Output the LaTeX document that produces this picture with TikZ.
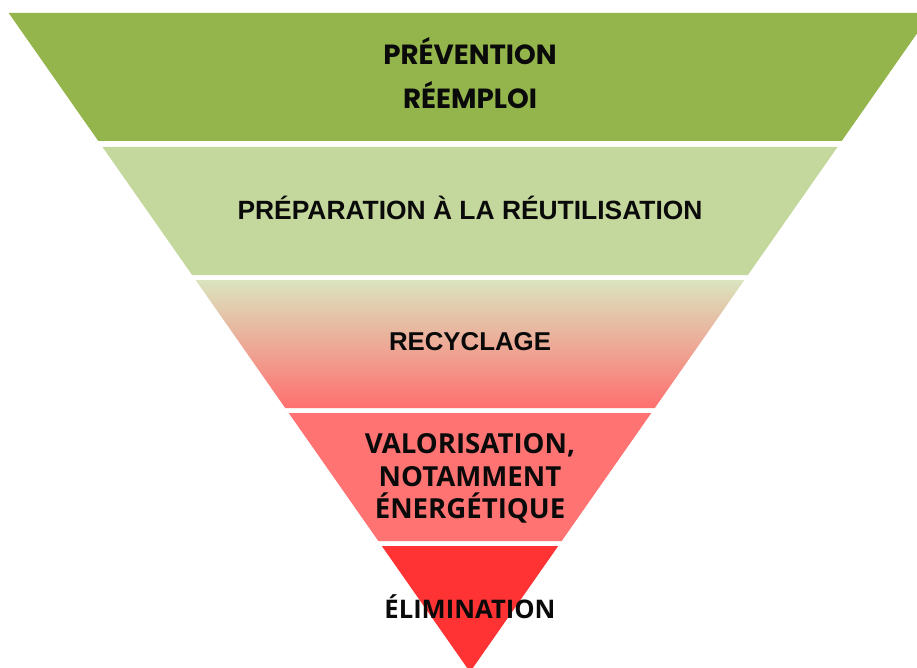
\documentclass[tikz,border=0pt]{standalone}
\usepackage{fontspec}
\newfontfamily\popf{Poppins}
\newfontfamily\libf{Liberation Sans}
\newfontfamily\opsf{Open Sans}
\definecolor{bandA}{RGB}{148,181,76}
\definecolor{bandB}{RGB}{196,215,156}
\definecolor{bandCtop}{RGB}{218,228,190}
\definecolor{bandCbot}{RGB}{255,112,112}
\definecolor{bandD}{RGB}{255,115,115}
\definecolor{bandE}{RGB}{255,51,51}
\definecolor{txt}{RGB}{10,10,10}
\tikzset{
  lbl/.style={anchor=base, text=txt, inner sep=0pt}
}
% left/right x of the inverted triangle at height y (px, y downwards)
\newcommand{\lx}[1]{470-0.70*(672-#1)}
\newcommand{\rx}[1]{470+0.70*(672-#1)}
\newcommand{\band}[3]{\path[#3] ({\lx{#1}},#1) -- ({\rx{#1}},#1) -- ({\rx{#2}},#2) -- ({\lx{#2}},#2) -- cycle;}
\begin{document}
\begin{tikzpicture}[x=1pt,y=-1pt]
\useasboundingbox (0,0) rectangle (917,668);
\clip (0,0) rectangle (917,668);
\fill[white] (0,0) rectangle (917,668);
\band{13}{141}{fill=bandA}
\band{147}{275}{fill=bandB}
\band{280}{408}{top color=bandCtop, bottom color=bandCbot}
\band{413}{541}{fill=bandD}
\band{546}{672}{fill=bandE}

\node[lbl, font=\popf\bfseries\fontsize{27.7}{30}\selectfont] (t1) at (470,65) {PRÉVENTION};
\node[lbl, font=\popf\bfseries\fontsize{27.7}{30}\selectfont] (t2) at (470,109) {RÉEMPLOI};
\node[lbl, font=\libf\bfseries\fontsize{26.4}{30}\selectfont] (t3) at (470,219) {PRÉPARATION À LA RÉUTILISATION};
\node[lbl, font=\libf\bfseries\fontsize{25.8}{30}\selectfont] (t4) at (470,350) {RECYCLAGE};
\node[lbl, font=\opsf\bfseries\fontsize{27.6}{30}\selectfont] (t5) at (470,453) {VALORISATION,};
\node[lbl, font=\opsf\bfseries\fontsize{27.6}{30}\selectfont] (t6) at (470,486) {NOTAMMENT};
\node[lbl, font=\opsf\bfseries\fontsize{27.6}{30}\selectfont] (t7) at (470,518) {ÉNERGÉTIQUE};
\node[lbl, font=\opsf\bfseries\fontsize{25.6}{30}\selectfont] (t8) at (470,618) {ÉLIMINATION};
\end{tikzpicture}
\end{document}
